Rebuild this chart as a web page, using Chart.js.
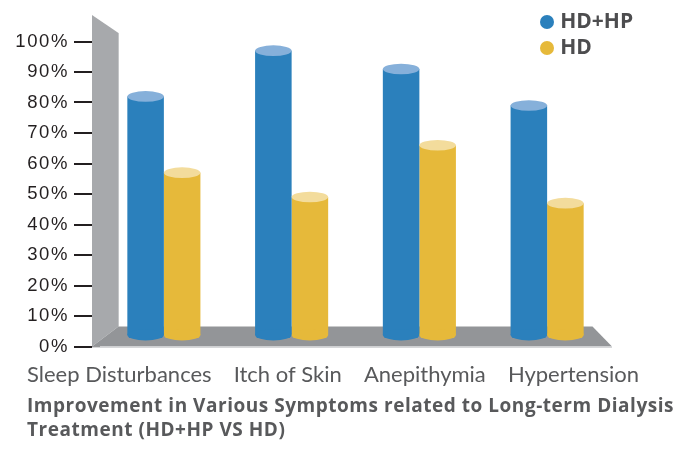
<!DOCTYPE html>
<html><head><meta charset="utf-8">
<script src="https://cdn.jsdelivr.net/npm/chart.js@4.4.0/dist/chart.umd.min.js"></script>
<style>
html,body{margin:0;padding:0;background:#fff;}
#wrap{position:relative;width:695px;height:449px;overflow:hidden;}
canvas{position:absolute;left:0;top:0;}
#legend{position:absolute;left:539.7px;top:6.9px;font-family:'Open Sans',sans-serif;font-weight:700;font-size:21px;color:#4d4d4f;}
.item{height:26.6px;line-height:26.6px;white-space:nowrap;}
.dot{display:inline-block;width:14px;height:14px;border-radius:50%;margin-right:6.5px;vertical-align:top;position:relative;top:7.8px;}
#title{position:absolute;left:27px;top:393.3px;font-family:'Open Sans',sans-serif;font-weight:700;font-size:19px;line-height:24px;color:#58595b;white-space:nowrap;}
#title span{display:block;}
</style></head>
<body><div id="wrap"><canvas id="c" width="695" height="449"></canvas><div id="legend"></div><div id="title"></div></div>
<script>
// ---- data ----
const categories = ['Sleep Disturbances', 'Itch of Skin', 'Anepithymia', 'Hypertension'];
const seriesNames = ['HD+HP', 'HD'];
const hdhpValues = [82, 97, 91, 79];
const hdValues = [57, 49, 66, 47];
const yTickValues = [0, 10, 20, 30, 40, 50, 60, 70, 80, 90, 100];
const titleLines = ['Improvement in Various Symptoms related to Long-term Dialysis', 'Treatment (HD+HP VS HD)'];

// ---- styles ----
const BODY = ['#2b80bc', '#e6b93a'];
const TOPC = ['#86b0da', '#f3dc9c'];
const BAR_BASE = 3.8;

document.getElementById('legend').innerHTML = seriesNames.map((n, i) =>
  '<div class="item"><span class="dot" style="background:' + BODY[i] + '"></span>' + n + '</div>').join('');
const titleEl = document.getElementById('title');
titleEl.innerHTML = titleLines.map(t => '<span>' + t + '</span>').join('');
// fit title line width to the reference width
(function fitTitle() {
  const first = titleEl.firstChild;
  first.style.display = 'inline-block';
  const w = first.getBoundingClientRect().width;
  first.style.display = 'block';
  const n = titleLines[0].length;
  const ls = (647 - w) / n;
  titleEl.style.letterSpacing = Math.max(-1, Math.min(1.5, ls)) + 'px';
})();

const decor = {
  id: 'decor',
  beforeDraw(chart) { chart.ctx.letterSpacing = '1.6px'; },
  beforeDatasetsDraw(chart) {
    const {ctx, chartArea: a, scales: {y}} = chart;
    ctx.save();
    ctx.letterSpacing = '0px';
    const front = y.getPixelForValue(0), top = y.getPixelForValue(100);
    const back = front - 20;
    const wl = a.left - 8, wr = a.left + 18.5;
    ctx.fillStyle = '#a7a9ac';
    ctx.beginPath();
    ctx.moveTo(wl, top - 26.5); ctx.lineTo(wr, top - 8.5); ctx.lineTo(wr, back); ctx.lineTo(wl, front);
    ctx.closePath(); ctx.fill();
    ctx.strokeStyle = '#c4c6c8'; ctx.lineWidth = 1;
    ctx.beginPath(); ctx.moveTo(wr, top - 8.5); ctx.lineTo(wr, back); ctx.stroke();
    ctx.fillStyle = '#939598';
    ctx.beginPath();
    ctx.moveTo(wr, back); ctx.lineTo(a.right - 18.5, back); ctx.lineTo(a.right + 1, front); ctx.lineTo(wl, front);
    ctx.closePath(); ctx.fill();
    ctx.fillStyle = '#d6d7d9';
    ctx.fillRect(wl, front, a.right + 1 - wl, 1.5);
    ctx.restore();
  },
  afterDatasetsDraw(chart) {
    const ctx = chart.ctx;
    ctx.save();
    chart.data.datasets.forEach((ds, i) => {
      chart.getDatasetMeta(i).data.forEach(bar => {
        const p = bar.getProps(['x', 'y', 'base', 'width'], true);
        const rx = p.width / 2;
        ctx.fillStyle = BODY[i];
        ctx.beginPath(); ctx.ellipse(p.x, p.base, rx, 5.6, 0, 0, Math.PI * 2); ctx.fill();
        ctx.fillStyle = TOPC[i];
        ctx.beginPath(); ctx.ellipse(p.x, p.y, rx, 5.3, 0, 0, Math.PI * 2); ctx.fill();
      });
    });
    ctx.restore();
  },
  afterDraw(chart) {
    const ctx = chart.ctx;
    ctx.save();
    ctx.letterSpacing = '0px';
    ctx.font = '400 22px Lato';
    ctx.fillStyle = '#58595b';
    ctx.textBaseline = 'alphabetic';
    ctx.textAlign = 'left';
    const labels = chart.data.labels;
    const widths = labels.map(l => ctx.measureText(l).width);
    const L = 27, R = 639;
    const gap = (R - L - widths.reduce((s, w) => s + w, 0)) / (labels.length - 1);
    let x = L;
    labels.forEach((l, i) => { ctx.fillText(l, x, 381.5); x += widths[i] + gap; });
    ctx.restore();
  }
};

new Chart(document.getElementById('c'), {
  type: 'bar',
  data: {
    labels: categories,
    datasets: [
      {label: seriesNames[0], data: hdhpValues, backgroundColor: BODY[0], base: BAR_BASE},
      {label: seriesNames[1], data: hdValues, backgroundColor: BODY[1], base: BAR_BASE}
    ]
  },
  options: {
    responsive: false,
    animation: false,
    layout: {padding: {left: 0, right: 84, top: 41.5, bottom: 102.5}},
    plugins: {legend: {display: false}, tooltip: {enabled: false}, title: {display: false}},
    datasets: {bar: {categoryPercentage: 0.572, barPercentage: 1, borderWidth: 0}},
    scales: {
      x: {display: false, offset: true},
      y: {
        min: 0, max: 100,
        afterFit(s) { s.width = 100; },
        afterBuildTicks(s) { s.ticks = yTickValues.map(v => ({value: v})); },
        ticks: {callback: v => v + '%', padding: 5, color: '#231f20', font: {family: 'Liberation Sans', size: 18.5}},
        grid: {drawOnChartArea: false, drawTicks: true, tickLength: 26, color: '#231f20', lineWidth: 2},
        border: {display: false}
      }
    }
  },
  plugins: [decor]
});
</script>
</body></html>
